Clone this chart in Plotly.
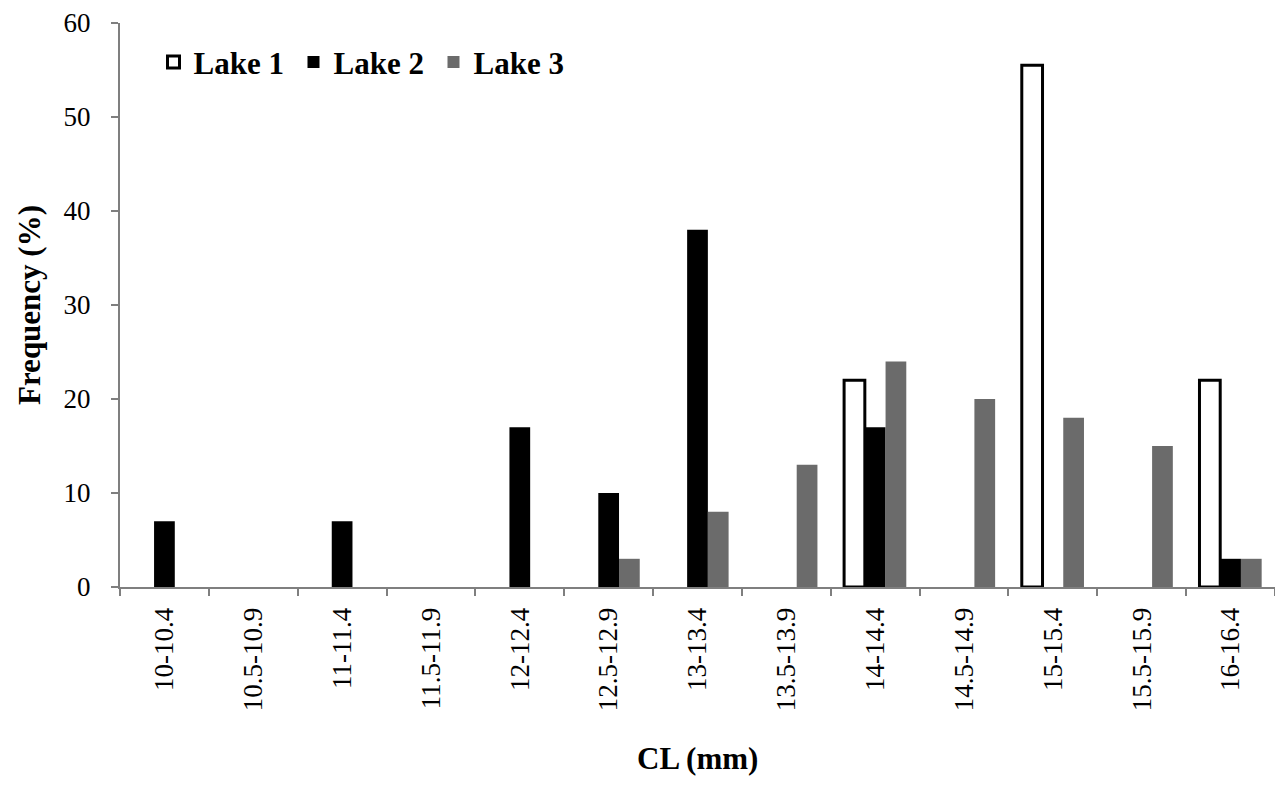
import plotly.graph_objects as go

categories = ["10-10.4", "10.5-10.9", "11-11.4", "11.5-11.9", "12-12.4", "12.5-12.9",
              "13-13.4", "13.5-13.9", "14-14.4", "14.5-14.9", "15-15.4", "15.5-15.9", "16-16.4"]
lake1 = [0, 0, 0, 0, 0, 0, 0, 0, 22, 0, 55.5, 0, 22]
lake2 = [7, 0, 7, 0, 17, 10, 38, 0, 17, 0, 0, 0, 3]
lake3 = [0, 0, 0, 0, 0, 3, 8, 13, 24, 20, 18, 15, 3]

font_family = "Liberation Serif"

def nz(vals):
    return [v if v else None for v in vals]

fig = go.Figure()
fig.add_trace(go.Bar(x=categories, y=nz(lake1), name="Lake 1",
                     marker=dict(color="white", line=dict(color="black", width=3))))
fig.add_trace(go.Bar(x=categories, y=nz(lake2), name="Lake 2",
                     marker=dict(color="black", line=dict(color="black", width=0))))
fig.add_trace(go.Bar(x=categories, y=nz(lake3), name="Lake 3",
                     marker=dict(color="#6b6b6b", line=dict(color="#6b6b6b", width=0))))

fig.update_layout(
    width=1267, height=770,
    margin=dict(l=112, r=0, t=12, b=191),
    plot_bgcolor="white", paper_bgcolor="white",
    barmode="group", bargap=0.3, bargroupgap=0,
    font=dict(family=font_family, color="black", size=27),
    showlegend=True,
    legend=dict(orientation="h", x=0.029, y=0.978, xanchor="left", yanchor="top",
                font=dict(family=font_family, size=31, color="black", weight="bold"),
                bgcolor="rgba(0,0,0,0)", itemwidth=30, traceorder="normal",
                entrywidth=95, entrywidthmode="pixels"),
    annotations=[dict(text="<b>CL (mm)</b>", xref="paper", yref="paper", x=0.5, y=0,
                      xanchor="center", yanchor="middle", yshift=-171, showarrow=False,
                      font=dict(family=font_family, size=31, color="black"))],
)
fig.update_xaxes(
    type="category", categoryorder="array", categoryarray=categories,
    tickangle=-90, tickson="boundaries", ticks="outside", ticklen=7, tickcolor="#7f7f7f",
    tickwidth=2, ticklabelstandoff=8,
    showline=True, linecolor="#7f7f7f", linewidth=2, showgrid=False,
    tickfont=dict(family=font_family, size=27, color="black"),
)
fig.update_yaxes(
    range=[0, 60], dtick=10, ticks="outside", ticklen=7, tickcolor="#7f7f7f", tickwidth=2,
    ticklabelstandoff=15, ticklabeloverflow="allow",
    showline=True, linecolor="#7f7f7f", linewidth=2, showgrid=False, zeroline=False,
    tickfont=dict(family=font_family, size=27, color="black"),
    title=dict(text="Frequency (%)", font=dict(family=font_family, size=31, weight="bold", color="black"),
               standoff=14),
)

fig.write_html("out.html")
